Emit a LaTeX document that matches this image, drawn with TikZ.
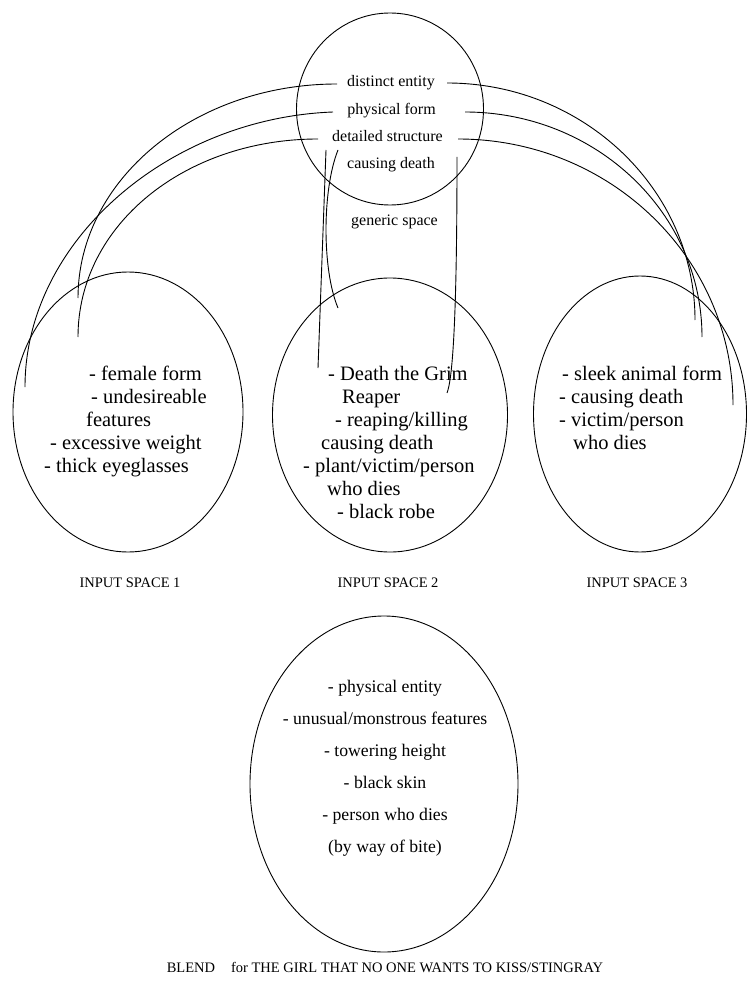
\documentclass[tikz,border=0pt]{standalone}
\usepackage{fontspec}
\setmainfont{Liberation Serif}
\usetikzlibrary{shapes.geometric, positioning}

\tikzset{
  spacering/.style={draw, ellipse, line width=0.9pt, inner sep=0pt},
  gentext/.style={font=\fontsize{16}{18}\selectfont, inner sep=0pt, anchor=base},
  itemtext/.style={font=\fontsize{20.5}{23}\selectfont, align=left, inner sep=0pt, anchor=base west},
  blendtext/.style={font=\fontsize{17.7}{32}\selectfont, align=center, inner sep=0pt, anchor=base},
  captext/.style={font=\fontsize{14.5}{16}\selectfont, inner sep=0pt, anchor=base},
  link/.style={line width=0.9pt}
}

\begin{document}
\begin{tikzpicture}[x=1pt, y=-1pt]
    \useasboundingbox (0,0) rectangle (746,981);

    % Spaces
    \node[spacering, minimum width=187pt, minimum height=192pt] (gen) at (390,109) {};
    \node[spacering, minimum width=230pt, minimum height=280pt] (inone) at (128,412) {};
    \node[spacering, minimum width=235pt, minimum height=274pt] (intwo) at (390,415) {};
    \node[spacering, minimum width=213pt, minimum height=276pt] (inthree) at (640,414) {};
    \node[spacering, minimum width=268pt, minimum height=336pt] (blend) at (384,784) {};

    % Generic space
    \node[gentext] (distinct) at (391,87) {distinct entity};
    \node[gentext] (physical) at (391.5,115) {physical form};
    \node[gentext] (detailed) at (387.5,142) {detailed structure};
    \node[gentext] (causing) at (391,169) {causing death};
    \node[gentext] (genlabel) at (394.5,226) {generic space};

    % Input spaces (base = last line)
    \node[itemtext] (onetext) at (44,472) {\hspace*{45pt}- female form\\
        \hspace*{47pt}- undesireable\\
        \hspace*{42pt}features\\
        \hspace*{6pt}- excessive weight\\
        - thick eyeglasses};
    \node[itemtext] (twotext) at (303,518) {\hspace*{25pt}- Death the Grim\\
        \hspace*{39pt}Reaper\\
        \hspace*{32pt}- reaping/killing\\
        \hspace*{18pt}causing death\\
        - plant/victim/person\\
        \hspace*{24pt}who dies\\
        \hspace*{34pt}- black robe};
    \node[itemtext] (threetext) at (559,449) {\hspace*{3pt}- sleek animal form\\
        - causing death\\
        - victim/person\\
        \hspace*{14pt}who dies};

    \node[captext] (onecap) at (130,587) {INPUT SPACE 1};
    \node[captext] (twocap) at (388,587) {INPUT SPACE 2};
    \node[captext] (threecap) at (637,587) {INPUT SPACE 3};

    % Blend
    \node[blendtext] (blendtext) at (385,852) {- physical entity\\
        - unusual/monstrous features\\
        - towering height\\
        - black skin\\
        - person who dies\\
        (by way of bite)};
    \node[captext] (blendcap) at (385,972) {BLEND\hspace{1.1em}for THE GIRL THAT NO ONE WANTS TO KISS/STINGRAY};

    % Link ends
    \coordinate (distL) at (337,84);
    \coordinate (distR) at (447,83);
    \coordinate (physL) at (333,112);
    \coordinate (physR) at (465,112);
    \coordinate (detL) at (318,139);
    \coordinate (detR) at (458,139);
    \coordinate (causeA) at (326,150);
    \coordinate (causeB) at (338,150);
    \coordinate (causeC) at (457,157);
    \coordinate (oneA) at (78,298);
    \coordinate (oneB) at (25,387);
    \coordinate (oneC) at (78,337);
    \coordinate (twoA) at (318,368);
    \coordinate (twoB) at (338,308);
    \coordinate (twoC) at (447,393);
    \coordinate (threeA) at (695,320);
    \coordinate (threeB) at (702,337);
    \coordinate (threeC) at (733,405);

    % Links to input space 1
    \draw[link] (distL) .. controls (194,84) and (78,180) .. (oneA);
    \draw[link] (physL) .. controls (170,118) and (25,240) .. (oneB);
    \draw[link] (detL) .. controls (185,139) and (78,225) .. (oneC);

    % Links to input space 2
    \draw[link] (causeA) -- (twoA);
    \draw[link] (causeB) .. controls (322,190) and (322,270) .. (twoB);
    \draw[link] (causeC) .. controls (457,330) and (452,380) .. (twoC);

    % Links to input space 3
    \draw[link] (distR) .. controls (584,83) and (695,190) .. (threeA);
    \draw[link] (physR) .. controls (596,112) and (702,213) .. (threeB);
    \draw[link] (detR) .. controls (610,139) and (733,258) .. (threeC);
\end{tikzpicture}
\end{document}
